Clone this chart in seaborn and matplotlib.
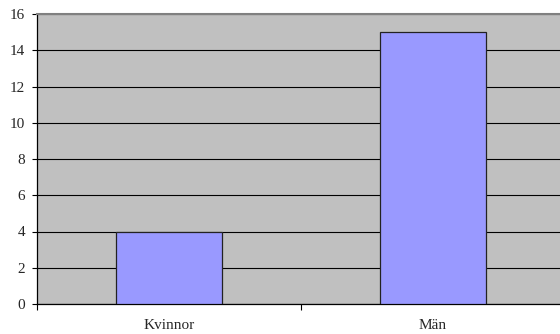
import matplotlib
matplotlib.use("Agg")
import matplotlib.pyplot as plt
import seaborn as sns
import pandas as pd
from matplotlib.ticker import FixedLocator

categories = ["Kvinnor", "Män"]
values = [4, 15]
y_ticks = [0, 2, 4, 6, 8, 10, 12, 14, 16]

sns.set_style("white")
plt.rcParams["font.family"] = ["Liberation Serif", "DejaVu Serif"]

df = pd.DataFrame({"kategori": categories, "antal": values})

W, H = 560, 334
fig = plt.figure(figsize=(W / 100, H / 100), dpi=100)
ax = fig.add_axes([37 / W, 1 - 304 / H, (565 - 37) / W, (304 - 14) / H])
ax.set_facecolor("#C0C0C0")

sns.barplot(data=df, x="kategori", y="antal", ax=ax, width=0.4,
            color="#9999FF", edgecolor="#222222", linewidth=0.9,
            saturation=1, zorder=3)

ax.set_xlim(-0.5, 1.5)
ax.set_ylim(0, 16)
ax.set_yticks(y_ticks)
ax.grid(axis="y", color="black", linewidth=0.8, zorder=0)
ax.set_axisbelow(True)
ax.set_xlabel("")
ax.set_ylabel("")

for side in ["top", "right"]:
    ax.spines[side].set_color("#808080")
    ax.spines[side].set_linewidth(1.5)
for side in ["left", "bottom"]:
    ax.spines[side].set_color("black")
    ax.spines[side].set_linewidth(0.9)

ax.tick_params(axis="y", direction="out", length=3.6, width=0.8, color="black",
               labelsize=11, pad=5, left=True)
ax.tick_params(axis="x", which="major", length=0, labelsize=11, pad=11)
ax.xaxis.set_minor_locator(FixedLocator([-0.5, 0.5, 1.5]))
ax.tick_params(axis="x", which="minor", direction="out", length=4, width=0.8,
               color="black", bottom=True)

fig.savefig("out.png", dpi=100)
